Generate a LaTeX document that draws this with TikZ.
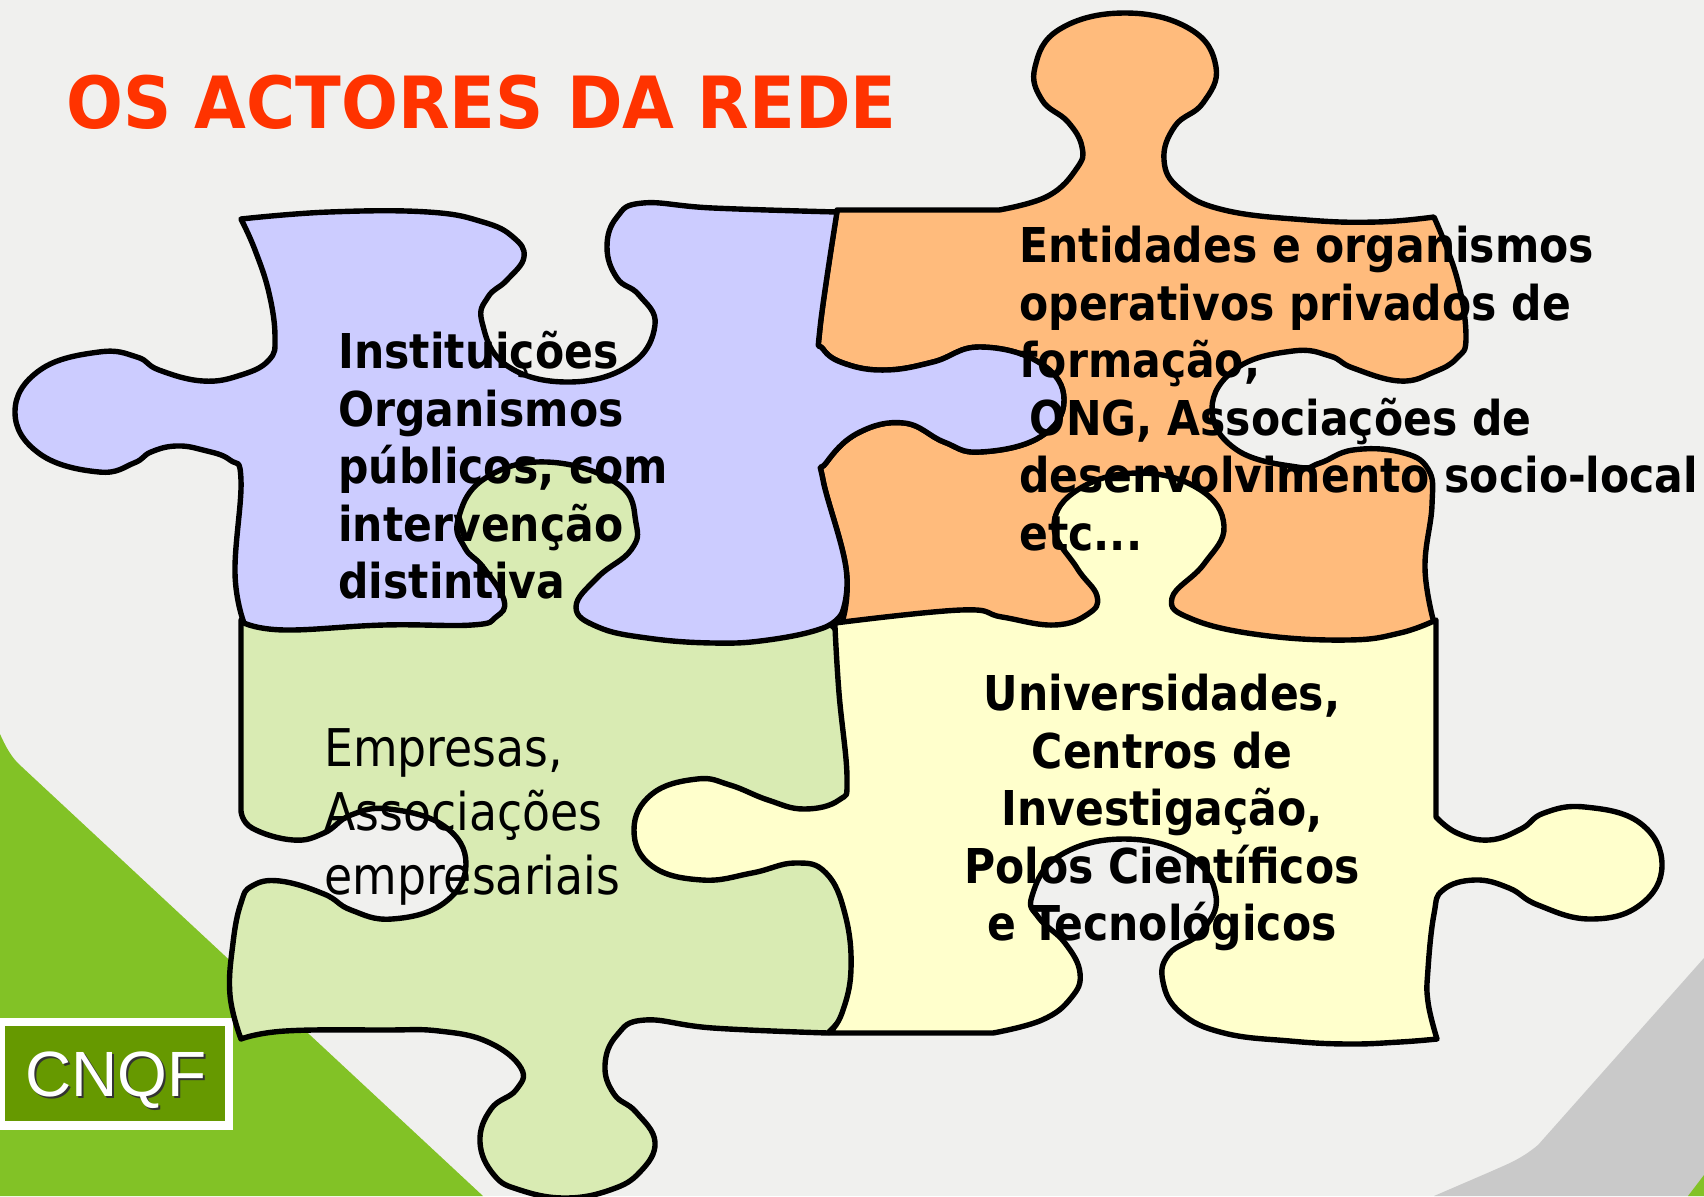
\documentclass[tikz,border=0pt]{standalone}
\usepackage{fontspec}
\newfontfamily\tah{DejaVu Sans}
\newfontfamily\arl{Liberation Sans}
\definecolor{bgc}{HTML}{F0F0EE}
\definecolor{leafc}{HTML}{82C226}
\definecolor{greyc}{HTML}{C9C9C9}
\definecolor{bluep}{HTML}{CCCCFF}
\definecolor{orangep}{HTML}{FFBB7C}
\definecolor{greenp}{HTML}{D9EBB3}
\definecolor{yellowp}{HTML}{FFFFCC}
\definecolor{titlec}{HTML}{FF3300}
\definecolor{boxc}{HTML}{669900}
\tikzset{
  piece/.style={draw=black,line width=2.7pt,line join=round},
  sm/.style={smooth,tension=0.72},
  boldtxt/.style={inner sep=0pt,anchor=north west,align=left,transform shape,xscale=0.886,font=\tah\bfseries\fontsize{24}{28.8}\selectfont},
  boldctr/.style={inner sep=0pt,anchor=north,align=center,transform shape,xscale=0.886,font=\tah\bfseries\fontsize{24}{28.8}\selectfont},
  regtxt/.style={inner sep=0pt,anchor=north west,align=left,transform shape,xscale=0.88,font=\tah\fontsize{26}{32}\selectfont}
}
\newcommand{\fl}[1]{\rule{0pt}{#1pt}}
\begin{document}
\begin{tikzpicture}[x=0.5pt,y=-0.5pt]
\useasboundingbox (0,0) rectangle (1704,1196);
\fill[bgc] (0,0) rectangle (1704,1196);
\fill[leafc] (0,734) .. controls (8,752) and (14,760) .. (22,767) -- (483,1196) -- (0,1196) -- cycle;
\fill[greyc] (1704,958) -- (1538,1145) .. controls (1520,1160) and (1505,1165) .. (1492,1171) -- (1434,1196) -- (1704,1196) -- cycle;
\fill[leafc] (1688,1196) -- (1704,1175) -- (1704,1196) -- cycle;
\node[anchor=base west,inner sep=0pt,text=titlec,transform shape,xscale=0.93,font=\tah\bfseries\fontsize{36}{40}\selectfont] (title) at (66,128) {OS ACTORES DA REDE};
\fill[white] (0,1018) rectangle (233,1130);
\fill[boxc] (5,1026) rectangle (225,1121);
\node[anchor=base west,inner sep=0pt,text=black!80,font=\arl\fontsize{32}{36}\selectfont] (cnqfs) at (27,1098) {CNQF};
\node[anchor=base west,inner sep=0pt,text=white,font=\arl\fontsize{32}{36}\selectfont] (cnqf) at (25,1096) {CNQF};
% green
\draw[piece,fill=greenp]
 (241,620) -- (241,790)
 -- plot[sm] coordinates {(241,811) (252,828) (293,840) (324,833) (351,815) (389,809) (444,826) (466,864) (444,903) (392,919) (351,910) (324,894) (280,881) (252,886) (241,903) (233,943) (230,995) (241,1039)}
 -- plot[sm] coordinates {(241,1039) (285,1031) (384,1030) (439,1031) (488,1042) (521,1068) (516,1090) (491,1109) (480,1142) (494,1175) (520,1190) (565,1198) (610,1190) (640,1172) (655,1142) (636,1112) (614,1094) (605,1065) (617,1035) (645,1020) (713,1028) (828,1033)}
 -- (860,1000) -- (860,650) -- (825,620) -- (660,620) -- (660,440) -- (440,440) -- (440,620) -- cycle;
% orange
\draw[piece,fill=orangep]
 plot[sm] coordinates {(837,210) (820,328) (823,349) (846,364) (886,370) (933,362) (980,347) (1040,363) (1064,400) (1040,437) (980,452) (944,442) (904,423) (858,433) (826,463) (823,480) (846,568) (843,619)}
 -- (850,650) -- (1430,650) -- (1434,623)
 -- plot[sm] coordinates {(1434,623) (1425,568) (1432,505) (1428,469) (1400,452) (1353,450) (1320,463) (1297,467) (1237,450) (1212,409) (1237,368) (1293,351) (1330,356) (1353,368) (1400,381) (1434,372) (1457,358) (1466,337) (1457,278) (1434,217)}
 -- plot[sm] coordinates {(1434,217) (1377,222) (1307,220) (1224,210) (1180,189) (1164,160) (1175,126) (1203,103) (1216,67) (1190,29) (1125,13) (1060,29) (1035,67) (1042,100) (1068,122) (1082,147) (1077,168) (1048,196) (999,210)}
 -- cycle;
% yellow
\draw[piece,fill=yellowp]
 plot[sm] coordinates {(835,623) (961,610) (1002,617) (1054,625) (1088,614) (1097,596) (1077,568) (1054,526) (1079,489) (1139,473) (1199,489) (1224,526) (1204,564) (1172,598) (1192,619) (1261,635) (1348,640) (1400,633) (1436,620)}
 -- (1436,817)
 -- plot[sm] coordinates {(1436,817) (1457,833) (1489,840) (1521,829) (1544,813) (1585,807) (1640,823) (1662,865) (1640,905) (1590,919) (1538,905) (1509,888) (1475,880) (1443,890) (1434,914) (1428,969) (1428,1002) (1437,1039)}
 -- plot[sm] coordinates {(1437,1039) (1400,1042) (1348,1044) (1290,1041) (1224,1033) (1181,1013) (1163,982) (1169,954) (1201,932) (1216,896) (1189,856) (1124,839) (1059,856) (1032,896) (1039,918) (1065,943) (1080,973) (1071,998) (1042,1020) (993,1033)}
 -- (829,1033)
 -- plot[sm] coordinates {(829,1033) (842,1013) (851,969) (845,914) (826,873) (795,863) (752,873) (702,880) (652,866) (634,830) (652,794) (697,779) (730,785) (768,800) (804,809) (839,800) (847,778) (839,693) (835,627)}
 -- cycle;
% blue
\draw[piece,fill=bluep]
 plot[sm] coordinates {(241,219) (329,212) (428,212) (483,222) (513,237) (524,257) (507,280) (488,297) (482,322) (506,365) (568,382) (630,365) (655,325) (639,295) (617,278) (607,247) (617,217) (643,203) (713,208) (837,212)}
 -- plot[sm] coordinates {(837,212) (820,328) (823,349) (846,364) (886,370) (933,362) (980,347) (1040,363) (1064,400) (1040,437) (980,452) (944,442) (904,423) (858,433) (826,463) (823,480) (846,568) (842,613)}
 -- plot[sm] coordinates {(842,613) (823,628) (768,640) (713,643) (647,638) (598,627) (576,607) (598,577) (631,550) (636,523) (618,484) (547,462) (484,479) (458,520) (465,548) (483,567) (504,600) (496,617) (472,625) (384,625) (285,630) (244,623)}
 -- plot[sm] coordinates {(244,623) (235,573) (241,480) (230,460) (203,450) (176,446) (151,452) (134,463) (99,472) (40,454) (15,412) (40,370) (99,352) (137,357) (159,370) (203,381) (241,375) (269,360) (275,337) (269,293) (255,250) (241,219)}
 -- cycle;
\node[boldtxt] (tblue) at (338,328) {\fl{20}Instituições\\Organismos\\públicos, com\\intervenção\\distintiva};
\node[boldtxt] (torange) at (1019,222) {\fl{20}Entidades e organismos\\operativos privados de\\formação,\\\hspace*{6pt}ONG, Associações de\\desenvolvimento socio-local\\etc...};
\node[boldctr] (tyellow) at (1162,670) {\fl{20}Universidades,\\Centros de\\Investigação,\\Polos Científicos\\e Tecnológicos};
\node[regtxt] (tgreen) at (324,722) {\fl{22}Empresas,\\Associações\\empresariais};
\end{tikzpicture}
\end{document}
